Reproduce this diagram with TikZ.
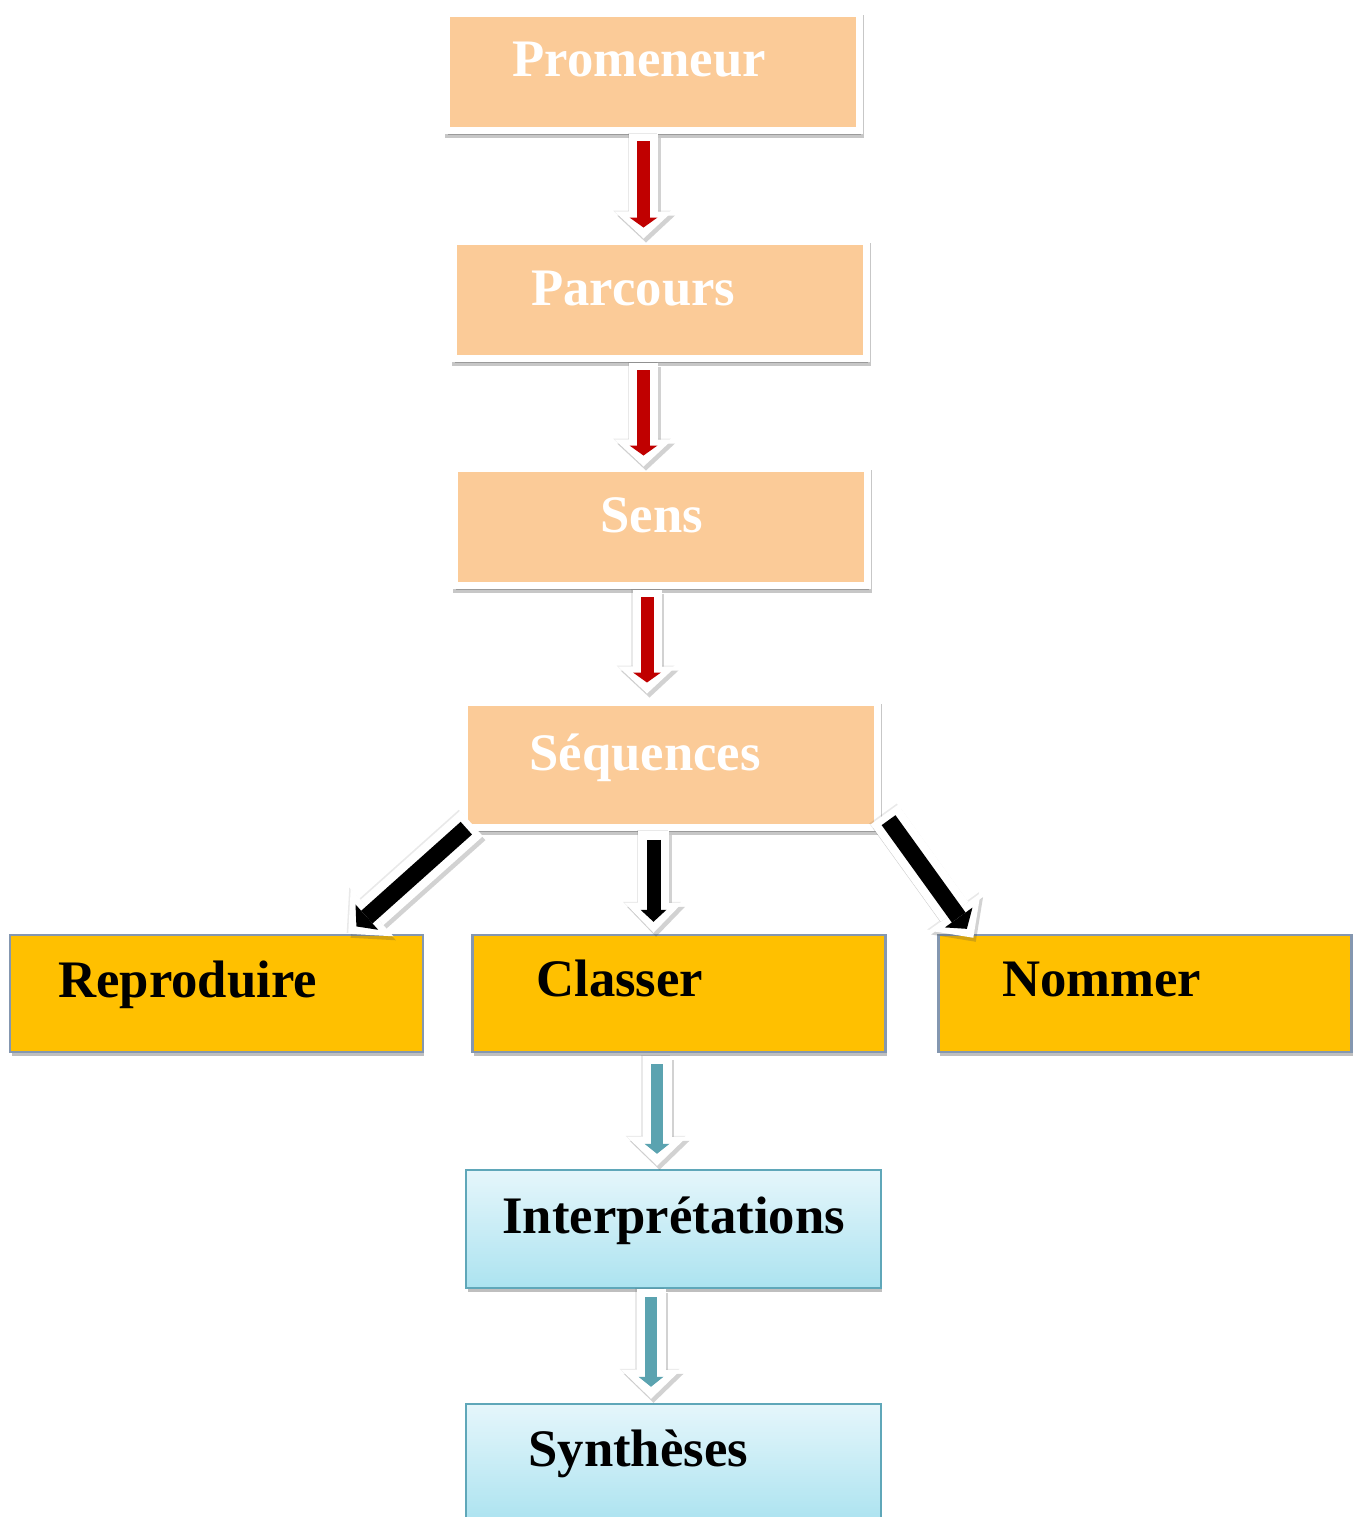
\documentclass[tikz,border=0pt]{standalone}
\usepackage{fontspec}
\setmainfont{Liberation Serif}
\usetikzlibrary{arrows.meta,calc,shadows}
\definecolor{peach}{HTML}{FBCB98}
\definecolor{gold}{HTML}{FFC000}
\definecolor{goldline}{HTML}{8497B0}
\definecolor{bluetop}{HTML}{E5F6FB}
\definecolor{bluebot}{HTML}{ACE3F0}
\definecolor{blueline}{HTML}{5FA7B9}
\definecolor{darkred}{HTML}{C00000}
\definecolor{teal2}{HTML}{5BA3B0}
\tikzset{
  lbl/.style={anchor=base west, inner sep=0pt, font=\fontsize{30}{36}\selectfont\bfseries},
  peachbox/.style={rectangle, inner sep=0pt, fill=peach, draw=white, line width=0.14cm,
    minimum width=8.26cm, minimum height=2.34cm,
    drop shadow={shadow xshift=0.03cm, shadow yshift=-0.09cm, opacity=0.22, fill=black, draw=black, line width=0.14cm}},
  goldbox/.style={rectangle, inner sep=0pt, fill=gold, draw=goldline, line width=0.05cm,
    minimum width=8.26cm, minimum height=2.34cm,
    drop shadow={shadow xshift=0.03cm, shadow yshift=-0.08cm, opacity=0.25, fill=black}},
  bluebox/.style={rectangle, inner sep=0pt, top color=bluetop, bottom color=bluebot, draw=blueline, line width=0.05cm,
    minimum width=8.3cm, minimum height=2.36cm,
    drop shadow={shadow xshift=0.03cm, shadow yshift=-0.08cm, opacity=0.25, fill=black}},
  ashadow/.style={draw=black!70, opacity=0.25, transform canvas={xshift=0.05cm, yshift=-0.08cm}},
  ahalo/.style={draw=black!70, opacity=0.12, transform canvas={xshift=-0.03cm, yshift=0.02cm}},
  redout/.style={draw=white, line width=0.58cm, -{Triangle[width=1.16cm, length=0.54cm, line width=0pt]}},
  redin/.style={draw=darkred, line width=0.26cm, shorten <=0.14cm, shorten >=0.22cm,
    -{Triangle[width=0.56cm, length=0.2cm, line width=0pt]}},
  vblkout/.style={draw=white, line width=0.62cm, -{Triangle[width=1.16cm, length=0.6cm, line width=0pt]}},
  vblkin/.style={draw=black, line width=0.28cm, shorten <=0.18cm, shorten >=0.22cm,
    -{Triangle[width=0.52cm, length=0.24cm, line width=0pt]}},
  dblkout/.style={draw=white, line width=0.68cm, -{Triangle[width=1.28cm, length=0.64cm, line width=0pt]}},
  dblkin/.style={draw=black, line width=0.34cm, shorten <=0.14cm, shorten >=0.22cm,
    -{Triangle[width=0.68cm, length=0.28cm, line width=0pt]}},
  tealout/.style={draw=white, line width=0.58cm, -{Triangle[width=1.2cm, length=0.58cm, line width=0pt]}},
  tealin/.style={draw=teal2, line width=0.24cm, shorten <=0.16cm, shorten >=0.24cm,
    -{Triangle[width=0.5cm, length=0.2cm, line width=0pt]}},
}
\newcommand{\blockarrow}[4]{%
  \draw[#3, ashadow] #1 -- #2;
  \draw[#3, ahalo] #1 -- #2;
  \draw[#3] #1 -- #2;
  \draw[#4] #1 -- #2;}
\begin{document}
\begin{tikzpicture}[x=0.02cm, y=-0.02cm]
\useasboundingbox (0,0) rectangle (1357,1517);
% boxes
\node[peachbox] (prom) at (653,72) {};
\node[peachbox] (parc) at (660,300) {};
\node[peachbox] (sens) at (661,527) {};
\node[peachbox, minimum height=2.5cm] (seq) at (671,765) {};
\node[goldbox] (rep) at (216.5,993.5) {};
\node[goldbox] (cla) at (679,993.5) {};
\node[goldbox] (nom) at (1145,993.5) {};
\node[bluebox] (int) at (673.5,1229) {};
\node[bluebox] (syn) at (673.5,1463) {};
% labels
\node[lbl, text=white] (promT) at (512,77) {Promeneur};
\node[lbl, text=white] (parcT) at (531,305) {Parcours};
\node[lbl, text=white] (sensT) at (600,532) {Sens};
\node[lbl, text=white] (seqT) at (529,770) {Séquences};
\node[lbl] (repT) at (58,997) {Reproduire};
\node[lbl] (claT) at (536,996) {Classer};
\node[lbl] (nomT) at (1002,996) {Nommer};
\node[lbl] (intT) at (502,1233) {Interprétations};
\node[lbl] (synT) at (528,1466) {Synthèses};
% connectors
\blockarrow{($(prom.south)+(-9.5,0.5)$)}{($(parc.north)+(-16.5,0.5)$)}{redout}{redin}
\blockarrow{($(parc.south)+(-16.5,1.5)$)}{($(sens.north)+(-17.5,1.5)$)}{redout}{redin}
\blockarrow{($(sens.south)+(-14,1.5)$)}{($(seq.north)+(-24,-5.5)$)}{redout}{redin}
\blockarrow{($(seq.south)+(-17.5,0)$)}{($(cla.north)+(-25.5,-1)$)}{vblkout}{vblkin}
\blockarrow{($(seq.south west)+(10.5,-7.5)$)}{($(rep.north east)+(-76,0)$)}{dblkout}{dblkin}
\blockarrow{($(seq.south east)+(3.5,-16.5)$)}{($(nom.north west)+(36,4)$)}{dblkout}{dblkin}
\blockarrow{($(cla.south)+(-22,3)$)}{($(int.north)+(-16.5,-3)$)}{tealout}{tealin}
\blockarrow{($(int.south)+(-22.5,0)$)}{($(syn.north)+(-22.5,-4)$)}{tealout}{tealin}
\end{tikzpicture}
\end{document}
